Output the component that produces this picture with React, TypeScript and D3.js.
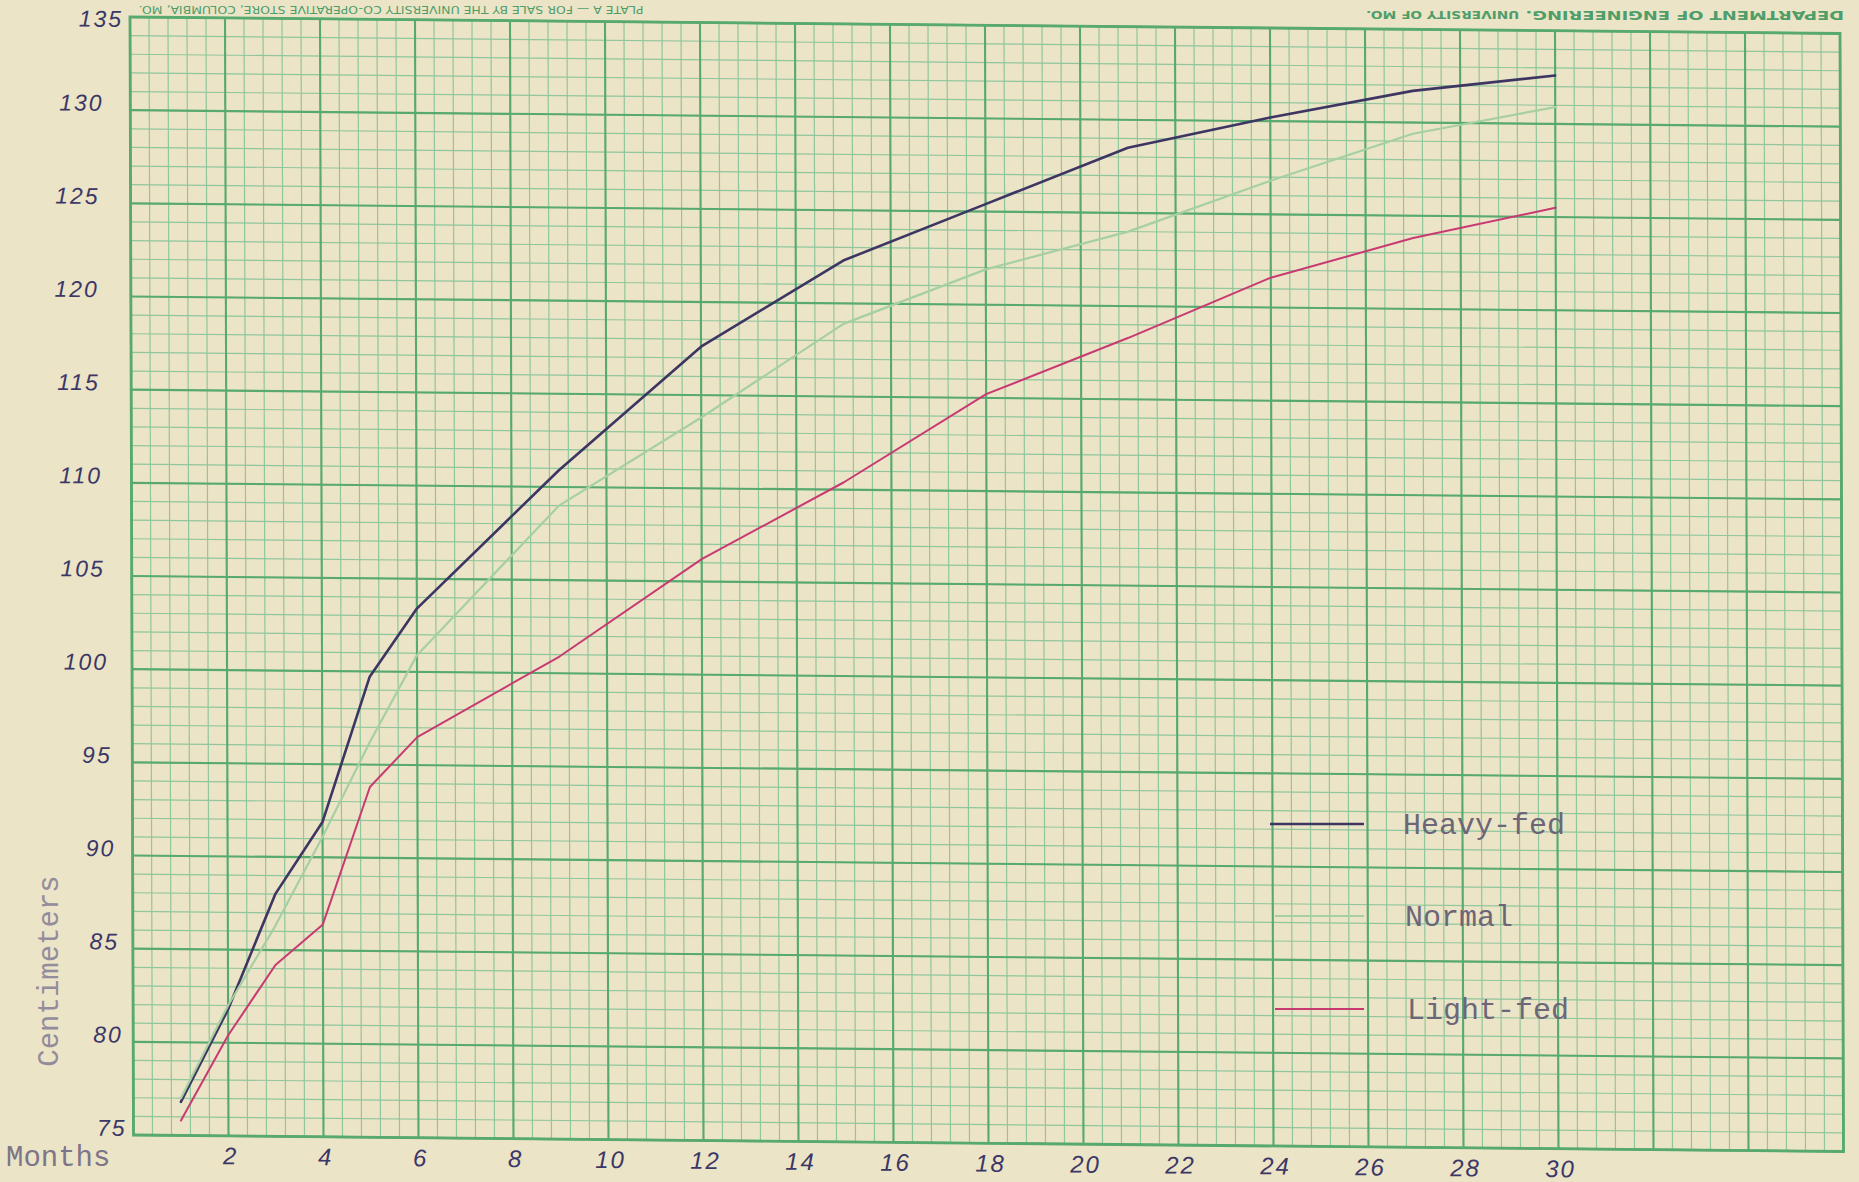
import React from "react";
import * as d3 from "d3";

// ---- data ----
const months = [1, 2, 3, 4, 5, 6, 9, 12, 15, 18, 21, 24, 27, 30];
const heavyFed = [76.8, 81.8, 88.0, 91.9, 99.7, 103.4, 110.9, 117.6, 122.3, 125.4, 128.5, 130.2, 131.7, 132.6];
const normalFed = [77.0, 82.0, 86.3, 91.1, 96.2, 100.9, 109.0, 113.8, 118.9, 121.9, 124.0, 126.8, 129.4, 130.9];
const lightFed = [75.8, 80.4, 84.2, 86.4, 93.8, 96.5, 100.9, 106.2, 110.4, 115.2, 118.3, 121.6, 123.8, 125.5];
const xTicks = [2, 4, 6, 8, 10, 12, 14, 16, 18, 20, 22, 24, 26, 28, 30];
const yTicks = [75, 80, 85, 90, 95, 100, 105, 110, 115, 120, 125, 130, 135];
const seriesNames = ["Heavy-fed", "Normal", "Light-fed"];
const xDomain = [0, 36];
const yDomain = [75, 135];

const W = 1710;
const H = 1118;
const PAPER = "#ece4c6";
const MINOR = "#8fc69c";
const MAJOR = "#57a970";
const INK = "#3b3766";
const colors = ["#3d3562", "#a6cfa2", "#c83a72"];
const widths = [2.6, 2.2, 2];

export default function App() {
  const x = d3.scaleLinear().domain(xDomain).range([0, W]);
  const y = d3.scaleLinear().domain(yDomain).range([H, 0]);
  const minorX = d3.range(xDomain[0], xDomain[1] + 0.001, 0.4);
  const minorY = d3.range(yDomain[0], yDomain[1] + 0.001, 1);
  const majorX = d3.range(xDomain[0], xDomain[1] + 0.001, 2);
  const majorY = d3.range(yDomain[0], yDomain[1] + 0.001, 5);
  const line = d3
    .line<number>()
    .x((_, i) => x(months[i]))
    .y((d) => y(d));
  const series = [heavyFed, normalFed, lightFed];
  const legendY = [824, 916, 1009];
  // the hand-lettered tick labels follow the bulge of the paper's left edge
  const labelOffset = (v: number) => {
    const t = (yDomain[1] - v) / (yDomain[1] - yDomain[0]);
    return -7 - 25 * Math.sin(Math.PI * Math.sqrt(t));
  };

  return (
    <svg
      width={1859}
      height={1182}
      style={{ position: "absolute", left: 0, top: 0, display: "block" }}
    >
      <rect x={0} y={0} width={1859} height={1182} fill={PAPER} />
      {/* upside-down printed headers */}
      <text
        transform="translate(391,9) rotate(180)"
        textAnchor="middle"
        dominantBaseline="central"
        fontFamily="DejaVu Sans, sans-serif"
        fontSize={10}
        fill="#4f9e6a"
        textLength={505}
        lengthAdjust="spacingAndGlyphs"
      >
        PLATE A — FOR SALE BY THE UNIVERSITY CO-OPERATIVE STORE, COLUMBIA, MO.
      </text>
      <text
        transform="translate(1605,15) rotate(180)"
        textAnchor="middle"
        dominantBaseline="central"
        fontFamily="DejaVu Sans, sans-serif"
        fontWeight="bold"
        fontSize={13}
        fill="#4f9e6a"
        textLength={478}
        lengthAdjust="spacingAndGlyphs"
      >
        DEPARTMENT OF ENGINEERING.{"  "}
        <tspan fontSize={10}>UNIVERSITY OF MO.</tspan>
      </text>

      <g transform={`matrix(1,0.00965,0.00313,1,130,17)`}>
        {minorX.map((v, i) => (
          <line key={"mx" + i} x1={x(v)} x2={x(v)} y1={0} y2={H} stroke={MINOR} strokeWidth={1.2} />
        ))}
        {minorY.map((v, i) => (
          <line key={"my" + i} x1={0} x2={W} y1={y(v)} y2={y(v)} stroke={MINOR} strokeWidth={1.2} />
        ))}
        {majorX.map((v, i) => (
          <line key={"MX" + i} x1={x(v)} x2={x(v)} y1={0} y2={H} stroke={MAJOR} strokeWidth={2.1} />
        ))}
        {majorY.map((v, i) => (
          <line key={"MY" + i} x1={0} x2={W} y1={y(v)} y2={y(v)} stroke={MAJOR} strokeWidth={2.1} />
        ))}
        <rect x={0} y={0} width={W} height={H} fill="none" stroke={MAJOR} strokeWidth={2.8} />

        {series.map((s, i) => (
          <path
            key={"s" + i}
            d={line(s) || ""}
            fill="none"
            stroke={colors[i]}
            strokeWidth={widths[i]}
            strokeLinejoin="round"
            strokeLinecap="round"
          />
        ))}

        {yTicks.map((v) => (
          <text
            key={"yt" + v}
            x={labelOffset(v)}
            y={Math.max(y(v) - 7, 2)}
            textAnchor="end"
            dominantBaseline="central"
            fontFamily="Liberation Sans, sans-serif"
            fontStyle="italic"
            fontSize={23}
            letterSpacing={2}
            fill={INK}
          >
            {v}
          </text>
        ))}
        {xTicks.map((v) => (
          <text
            key={"xt" + v}
            x={x(v) + 2}
            y={H + 20}
            textAnchor="middle"
            dominantBaseline="central"
            fontFamily="Liberation Sans, sans-serif"
            fontStyle="italic"
            fontSize={24}
            letterSpacing={2}
            fill={INK}
          >
            {v}
          </text>
        ))}
      </g>

      <text
        x={6}
        y={1158}
        dominantBaseline="central"
        fontFamily="Liberation Mono, monospace"
        fontSize={29}
        fill="#7d7588"
      >
        Months
      </text>
      <text
        transform="translate(50,971) rotate(-90)"
        textAnchor="middle"
        dominantBaseline="central"
        fontFamily="Liberation Mono, monospace"
        fontSize={29}
        fill="#938c9c"
      >
        Centimeters
      </text>

      {seriesNames.map((n, i) => (
        <g key={"lg" + i}>
          <line
            x1={1270 + (i > 0 ? 5 : 0)}
            x2={1364}
            y1={legendY[i]}
            y2={legendY[i]}
            stroke={colors[i]}
            strokeWidth={widths[i]}
          />
          <text
            x={1403 + i * 2}
            y={legendY[i] + 2}
            dominantBaseline="central"
            fontFamily="Liberation Mono, monospace"
            fontSize={30}
            fill="#6d6678"
          >
            {n}
          </text>
        </g>
      ))}
    </svg>
  );
}
